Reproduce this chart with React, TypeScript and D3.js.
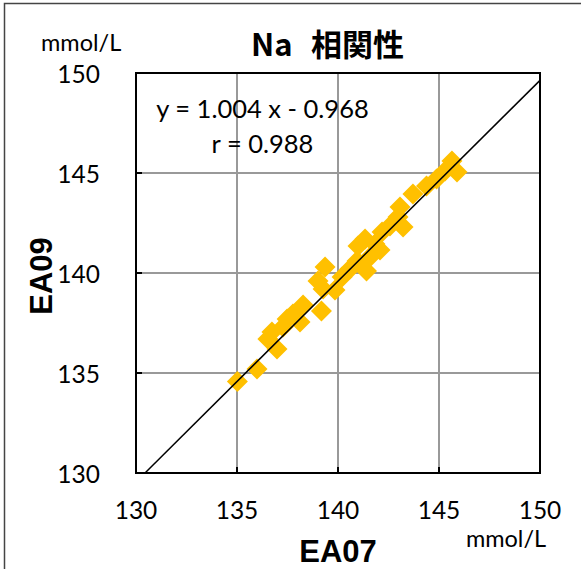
import React from "react";
import * as d3 from "d3";

const ea07 = [135.02, 135.99, 136.53, 136.73, 136.98, 137.28, 137.48, 137.77, 138.12, 138.27, 139.18, 139.26, 139.36, 139.01, 139.85, 140.2, 140.59, 140.94, 140.99, 141.41, 141.58, 142.08, 142.18, 142.57, 143.07, 143.22, 142.97, 143.71, 144.38, 144.88, 145.3, 145.64, 145.89, 141.34, 141.83];
const ea09 = [134.58, 135.2, 136.7, 137.05, 136.2, 137.3, 137.7, 137.95, 137.55, 138.4, 138.1, 139.2, 140.3, 139.6, 139.15, 139.8, 140.2, 140.6, 141.35, 140.1, 140.8, 141.15, 142.05, 142.35, 143.3, 142.3, 142.8, 143.95, 144.35, 144.7, 145.1, 145.6, 145.05, 141.7, 141.45];
const xTicks = [130, 135, 140, 145, 150];
const yTicks = [130, 135, 140, 145, 150];
const slope = 1.004;
const intercept = -0.968;
const eqLabel = "y = 1.004 x - 0.968";
const rLabel = "r = 0.988";
const title = "Na  相関性";
const xTitle = "EA07";
const yTitle = "EA09";
const unit = "mmol/L";

export default function App() {
  const W = 581, H = 569;
  const x = d3.scaleLinear().domain([130, 150]).range([136, 540]);
  const y = d3.scaleLinear().domain([130, 150]).range([473, 73]);
  const font = "Lato, 'Open Sans', sans-serif";
  const bold = "'Liberation Sans', Arial, sans-serif";
  const diamond = "M0,-10.5L10.5,0L0,10.5L-10.5,0Z";
  const x0 = (130 - intercept) / slope;
  const x1 = 150;
  const linePath = d3.line()([
    [x(x0), y(slope * x0 + intercept)],
    [x(x1), y(slope * x1 + intercept)],
  ] as any);
  const titleParts = title.split(/\s+/);
  return (
    <svg width={W} height={H} style={{ position: "absolute", left: 0, top: 0 }}>
      <rect x={0} y={0} width={W} height={H} fill="#fff" />
      <rect x={4.5} y={3.5} width={700} height={700} fill="none" stroke="#444" strokeWidth={1.5} />
      <text x={41} y={51} fontFamily={font} fontSize={23.5} fill="#000">{unit}</text>
      <text y={56} fontFamily="'Noto Sans CJK JP', sans-serif" fontWeight="bold" fontSize={31} fill="#000">
        <tspan x={251}>{titleParts[0]}</tspan>
        <tspan x={311}>{titleParts[1]}</tspan>
      </text>
      {xTicks.slice(1, -1).map((t) => (
        <line key={"gx" + t} x1={x(t)} x2={x(t)} y1={y(150)} y2={y(130)} stroke="#999" strokeWidth={2} />
      ))}
      {yTicks.slice(1, -1).map((t) => (
        <line key={"gy" + t} x1={x(130)} x2={x(150)} y1={y(t)} y2={y(t)} stroke="#999" strokeWidth={2} />
      ))}
      {xTicks.slice(1, -1).map((t) => (
        <line key={"tx" + t} x1={x(t)} x2={x(t)} y1={y(130)} y2={y(130) - 6} stroke="#000" strokeWidth={2} />
      ))}
      {yTicks.slice(1, -1).map((t) => (
        <line key={"ty" + t} x1={x(130)} x2={x(130) + 6} y1={y(t)} y2={y(t)} stroke="#000" strokeWidth={2} />
      ))}
      {ea07.map((v, i) => (
        <path key={"p" + i} d={diamond} transform={`translate(${x(v)},${y(ea09[i])})`} fill="#FFC000" />
      ))}
      <path d={linePath || ""} stroke="#000" strokeWidth={1.5} fill="none" />
      <rect x={x(130)} y={y(150)} width={x(150) - x(130)} height={y(130) - y(150)} fill="none" stroke="#000" strokeWidth={2} />
      {yTicks.map((t) => (
        <text key={"ly" + t} x={100} y={y(t) + 9.5} textAnchor="end" fontFamily={font} fontSize={24.5} fill="#000">{t}</text>
      ))}
      {xTicks.map((t) => (
        <text key={"lx" + t} x={x(t)} y={519} textAnchor="middle" fontFamily={font} fontSize={24.5} fill="#000">{t}</text>
      ))}
      <text x={506} y={547} textAnchor="middle" fontFamily={font} fontSize={23.5} fill="#000">{unit}</text>
      <text x={338} y={562} textAnchor="middle" fontFamily={bold} fontWeight="bold" fontSize={31} fill="#000">{xTitle}</text>
      <text transform={`translate(52,276) rotate(-90)`} textAnchor="middle" fontFamily={bold} fontWeight="bold" fontSize={31} fill="#000">{yTitle}</text>
      <text x={262.5} y={118} textAnchor="middle" fontFamily={font} fontSize={25.5} fill="#000">{eqLabel}</text>
      <text x={262.5} y={153} textAnchor="middle" fontFamily={font} fontSize={25.5} fill="#000">{rLabel}</text>
    </svg>
  );
}
